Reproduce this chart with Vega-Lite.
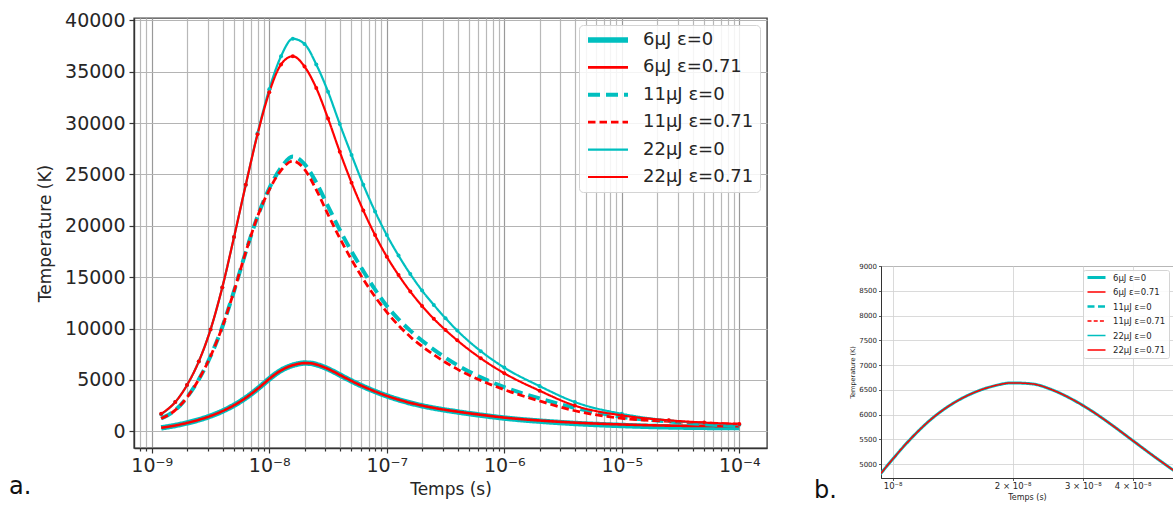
{
  "$schema": "https://vega.github.io/schema/vega-lite/v6.json",
  "autosize": {"type": "pad"},
  "padding": {"left": 8, "top": 10, "right": 0, "bottom": 0},
  "config": {
    "font": "DejaVu Sans",
    "view": {"stroke": null},
    "axis": {"labelColor": "#262626", "titleColor": "#262626", "titleFontWeight": "normal", "domainColor": "#333333", "tickColor": "#333333"},
    "title": {"font": "DejaVu Sans", "fontWeight": "normal", "color": "#111111"}
  },
  "datasets": {
    "curves": [
      {"s": "6µJ ε=0", "t": 1.202e-9, "T": 340},
      {"s": "6µJ ε=0", "t": 1.585e-9, "T": 570},
      {"s": "6µJ ε=0", "t": 1.995e-9, "T": 820},
      {"s": "6µJ ε=0", "t": 2.512e-9, "T": 1120},
      {"s": "6µJ ε=0", "t": 3.162e-9, "T": 1490},
      {"s": "6µJ ε=0", "t": 3.981e-9, "T": 1960},
      {"s": "6µJ ε=0", "t": 5.012e-9, "T": 2540},
      {"s": "6µJ ε=0", "t": 6.31e-9, "T": 3260},
      {"s": "6µJ ε=0", "t": 7.943e-9, "T": 4130},
      {"s": "6µJ ε=0", "t": 8.913e-9, "T": 4610},
      {"s": "6µJ ε=0", "t": 1e-8, "T": 5100},
      {"s": "6µJ ε=0", "t": 1.122e-8, "T": 5550},
      {"s": "6µJ ε=0", "t": 1.259e-8, "T": 5930},
      {"s": "6µJ ε=0", "t": 1.413e-8, "T": 6220},
      {"s": "6µJ ε=0", "t": 1.585e-8, "T": 6430},
      {"s": "6µJ ε=0", "t": 1.778e-8, "T": 6570},
      {"s": "6µJ ε=0", "t": 1.995e-8, "T": 6640},
      {"s": "6µJ ε=0", "t": 2.239e-8, "T": 6620},
      {"s": "6µJ ε=0", "t": 2.512e-8, "T": 6500},
      {"s": "6µJ ε=0", "t": 2.818e-8, "T": 6310},
      {"s": "6µJ ε=0", "t": 3.162e-8, "T": 6070},
      {"s": "6µJ ε=0", "t": 3.548e-8, "T": 5790},
      {"s": "6µJ ε=0", "t": 3.981e-8, "T": 5490},
      {"s": "6µJ ε=0", "t": 4.467e-8, "T": 5190},
      {"s": "6µJ ε=0", "t": 5.012e-8, "T": 4900},
      {"s": "6µJ ε=0", "t": 5.623e-8, "T": 4620},
      {"s": "6µJ ε=0", "t": 6.31e-8, "T": 4360},
      {"s": "6µJ ε=0", "t": 7.943e-8, "T": 3880},
      {"s": "6µJ ε=0", "t": 1e-7, "T": 3450},
      {"s": "6µJ ε=0", "t": 1.259e-7, "T": 3080},
      {"s": "6µJ ε=0", "t": 1.585e-7, "T": 2760},
      {"s": "6µJ ε=0", "t": 1.995e-7, "T": 2490},
      {"s": "6µJ ε=0", "t": 2.512e-7, "T": 2260},
      {"s": "6µJ ε=0", "t": 3.981e-7, "T": 1890},
      {"s": "6µJ ε=0", "t": 6.31e-7, "T": 1570},
      {"s": "6µJ ε=0", "t": 1e-6, "T": 1290},
      {"s": "6µJ ε=0", "t": 1.995e-6, "T": 990},
      {"s": "6µJ ε=0", "t": 3.981e-6, "T": 765},
      {"s": "6µJ ε=0", "t": 1e-5, "T": 565},
      {"s": "6µJ ε=0", "t": 2.512e-5, "T": 430},
      {"s": "6µJ ε=0", "t": 5.012e-5, "T": 385},
      {"s": "6µJ ε=0", "t": 1e-4, "T": 360},

      {"s": "6µJ ε=0.71", "t": 1.202e-9, "T": 340},
      {"s": "6µJ ε=0.71", "t": 1.585e-9, "T": 570},
      {"s": "6µJ ε=0.71", "t": 1.995e-9, "T": 820},
      {"s": "6µJ ε=0.71", "t": 2.512e-9, "T": 1120},
      {"s": "6µJ ε=0.71", "t": 3.162e-9, "T": 1490},
      {"s": "6µJ ε=0.71", "t": 3.981e-9, "T": 1960},
      {"s": "6µJ ε=0.71", "t": 5.012e-9, "T": 2540},
      {"s": "6µJ ε=0.71", "t": 6.31e-9, "T": 3260},
      {"s": "6µJ ε=0.71", "t": 7.943e-9, "T": 4130},
      {"s": "6µJ ε=0.71", "t": 8.913e-9, "T": 4610},
      {"s": "6µJ ε=0.71", "t": 1e-8, "T": 5100},
      {"s": "6µJ ε=0.71", "t": 1.122e-8, "T": 5550},
      {"s": "6µJ ε=0.71", "t": 1.259e-8, "T": 5930},
      {"s": "6µJ ε=0.71", "t": 1.413e-8, "T": 6220},
      {"s": "6µJ ε=0.71", "t": 1.585e-8, "T": 6430},
      {"s": "6µJ ε=0.71", "t": 1.778e-8, "T": 6570},
      {"s": "6µJ ε=0.71", "t": 1.995e-8, "T": 6640},
      {"s": "6µJ ε=0.71", "t": 2.239e-8, "T": 6620},
      {"s": "6µJ ε=0.71", "t": 2.512e-8, "T": 6500},
      {"s": "6µJ ε=0.71", "t": 2.818e-8, "T": 6310},
      {"s": "6µJ ε=0.71", "t": 3.162e-8, "T": 6070},
      {"s": "6µJ ε=0.71", "t": 3.548e-8, "T": 5790},
      {"s": "6µJ ε=0.71", "t": 3.981e-8, "T": 5490},
      {"s": "6µJ ε=0.71", "t": 4.467e-8, "T": 5190},
      {"s": "6µJ ε=0.71", "t": 5.012e-8, "T": 4900},
      {"s": "6µJ ε=0.71", "t": 5.623e-8, "T": 4620},
      {"s": "6µJ ε=0.71", "t": 6.31e-8, "T": 4360},
      {"s": "6µJ ε=0.71", "t": 7.943e-8, "T": 3880},
      {"s": "6µJ ε=0.71", "t": 1e-7, "T": 3450},
      {"s": "6µJ ε=0.71", "t": 1.259e-7, "T": 3085},
      {"s": "6µJ ε=0.71", "t": 1.585e-7, "T": 2770},
      {"s": "6µJ ε=0.71", "t": 1.995e-7, "T": 2505},
      {"s": "6µJ ε=0.71", "t": 2.512e-7, "T": 2280},
      {"s": "6µJ ε=0.71", "t": 3.981e-7, "T": 1915},
      {"s": "6µJ ε=0.71", "t": 6.31e-7, "T": 1605},
      {"s": "6µJ ε=0.71", "t": 1e-6, "T": 1335},
      {"s": "6µJ ε=0.71", "t": 1.995e-6, "T": 1050},
      {"s": "6µJ ε=0.71", "t": 3.981e-6, "T": 845},
      {"s": "6µJ ε=0.71", "t": 1e-5, "T": 665},
      {"s": "6µJ ε=0.71", "t": 2.512e-5, "T": 550},
      {"s": "6µJ ε=0.71", "t": 5.012e-5, "T": 515},
      {"s": "6µJ ε=0.71", "t": 1e-4, "T": 500},

      {"s": "11µJ ε=0", "t": 1.202e-9, "T": 1250},
      {"s": "11µJ ε=0", "t": 1.585e-9, "T": 2060},
      {"s": "11µJ ε=0", "t": 1.995e-9, "T": 3310},
      {"s": "11µJ ε=0", "t": 2.512e-9, "T": 5050},
      {"s": "11µJ ε=0", "t": 3.162e-9, "T": 7300},
      {"s": "11µJ ε=0", "t": 3.981e-9, "T": 10150},
      {"s": "11µJ ε=0", "t": 5.012e-9, "T": 13650},
      {"s": "11µJ ε=0", "t": 6.31e-9, "T": 17450},
      {"s": "11µJ ε=0", "t": 7.943e-9, "T": 20900},
      {"s": "11µJ ε=0", "t": 1e-8, "T": 23650},
      {"s": "11µJ ε=0", "t": 1.259e-8, "T": 25650},
      {"s": "11µJ ε=0", "t": 1.585e-8, "T": 26750},
      {"s": "11µJ ε=0", "t": 1.995e-8, "T": 26000},
      {"s": "11µJ ε=0", "t": 2.512e-8, "T": 24200},
      {"s": "11µJ ε=0", "t": 3.162e-8, "T": 21900},
      {"s": "11µJ ε=0", "t": 3.981e-8, "T": 19600},
      {"s": "11µJ ε=0", "t": 5.012e-8, "T": 17500},
      {"s": "11µJ ε=0", "t": 6.31e-8, "T": 15600},
      {"s": "11µJ ε=0", "t": 7.943e-8, "T": 13800},
      {"s": "11µJ ε=0", "t": 1e-7, "T": 12200},
      {"s": "11µJ ε=0", "t": 1.259e-7, "T": 10900},
      {"s": "11µJ ε=0", "t": 1.585e-7, "T": 9800},
      {"s": "11µJ ε=0", "t": 2.512e-7, "T": 7950},
      {"s": "11µJ ε=0", "t": 3.981e-7, "T": 6450},
      {"s": "11µJ ε=0", "t": 6.31e-7, "T": 5250},
      {"s": "11µJ ε=0", "t": 1e-6, "T": 4300},
      {"s": "11µJ ε=0", "t": 1.995e-6, "T": 3200},
      {"s": "11µJ ε=0", "t": 3.981e-6, "T": 2280},
      {"s": "11µJ ε=0", "t": 1e-5, "T": 1400},
      {"s": "11µJ ε=0", "t": 2.512e-5, "T": 950},
      {"s": "11µJ ε=0", "t": 5.012e-5, "T": 700},
      {"s": "11µJ ε=0", "t": 1e-4, "T": 500},

      {"s": "11µJ ε=0.71", "t": 1.202e-9, "T": 1250},
      {"s": "11µJ ε=0.71", "t": 1.585e-9, "T": 2060},
      {"s": "11µJ ε=0.71", "t": 1.995e-9, "T": 3310},
      {"s": "11µJ ε=0.71", "t": 2.512e-9, "T": 5050},
      {"s": "11µJ ε=0.71", "t": 3.162e-9, "T": 7300},
      {"s": "11µJ ε=0.71", "t": 3.981e-9, "T": 10150},
      {"s": "11µJ ε=0.71", "t": 5.012e-9, "T": 13650},
      {"s": "11µJ ε=0.71", "t": 6.31e-9, "T": 17450},
      {"s": "11µJ ε=0.71", "t": 7.943e-9, "T": 20900},
      {"s": "11µJ ε=0.71", "t": 1e-8, "T": 23500},
      {"s": "11µJ ε=0.71", "t": 1.259e-8, "T": 25400},
      {"s": "11µJ ε=0.71", "t": 1.585e-8, "T": 26300},
      {"s": "11µJ ε=0.71", "t": 1.995e-8, "T": 25500},
      {"s": "11µJ ε=0.71", "t": 2.512e-8, "T": 23500},
      {"s": "11µJ ε=0.71", "t": 3.162e-8, "T": 21100},
      {"s": "11µJ ε=0.71", "t": 3.981e-8, "T": 18800},
      {"s": "11µJ ε=0.71", "t": 5.012e-8, "T": 16700},
      {"s": "11µJ ε=0.71", "t": 6.31e-8, "T": 14800},
      {"s": "11µJ ε=0.71", "t": 7.943e-8, "T": 13100},
      {"s": "11µJ ε=0.71", "t": 1e-7, "T": 11600},
      {"s": "11µJ ε=0.71", "t": 1.259e-7, "T": 10300},
      {"s": "11µJ ε=0.71", "t": 1.585e-7, "T": 9200},
      {"s": "11µJ ε=0.71", "t": 2.512e-7, "T": 7450},
      {"s": "11µJ ε=0.71", "t": 3.981e-7, "T": 6050},
      {"s": "11µJ ε=0.71", "t": 6.31e-7, "T": 4950},
      {"s": "11µJ ε=0.71", "t": 1e-6, "T": 4050},
      {"s": "11µJ ε=0.71", "t": 1.995e-6, "T": 2950},
      {"s": "11µJ ε=0.71", "t": 3.981e-6, "T": 2000},
      {"s": "11µJ ε=0.71", "t": 1e-5, "T": 1260},
      {"s": "11µJ ε=0.71", "t": 2.512e-5, "T": 970},
      {"s": "11µJ ε=0.71", "t": 5.012e-5, "T": 810},
      {"s": "11µJ ε=0.71", "t": 1e-4, "T": 700},

      {"s": "22µJ ε=0", "t": 1.202e-9, "T": 1650},
      {"s": "22µJ ε=0", "t": 1.585e-9, "T": 2850},
      {"s": "22µJ ε=0", "t": 1.995e-9, "T": 4500},
      {"s": "22µJ ε=0", "t": 2.512e-9, "T": 6800},
      {"s": "22µJ ε=0", "t": 3.162e-9, "T": 9900},
      {"s": "22µJ ε=0", "t": 3.981e-9, "T": 14000},
      {"s": "22µJ ε=0", "t": 5.012e-9, "T": 18900},
      {"s": "22µJ ε=0", "t": 6.31e-9, "T": 24000},
      {"s": "22µJ ε=0", "t": 7.943e-9, "T": 29000},
      {"s": "22µJ ε=0", "t": 1e-8, "T": 33300},
      {"s": "22µJ ε=0", "t": 1.259e-8, "T": 36500},
      {"s": "22µJ ε=0", "t": 1.585e-8, "T": 38200},
      {"s": "22µJ ε=0", "t": 1.995e-8, "T": 37700},
      {"s": "22µJ ε=0", "t": 2.512e-8, "T": 35700},
      {"s": "22µJ ε=0", "t": 3.162e-8, "T": 33050},
      {"s": "22µJ ε=0", "t": 3.981e-8, "T": 29900},
      {"s": "22µJ ε=0", "t": 5.012e-8, "T": 26900},
      {"s": "22µJ ε=0", "t": 6.31e-8, "T": 24000},
      {"s": "22µJ ε=0", "t": 7.943e-8, "T": 21400},
      {"s": "22µJ ε=0", "t": 1e-7, "T": 19100},
      {"s": "22µJ ε=0", "t": 1.259e-7, "T": 17100},
      {"s": "22µJ ε=0", "t": 1.585e-7, "T": 15300},
      {"s": "22µJ ε=0", "t": 1.995e-7, "T": 13700},
      {"s": "22µJ ε=0", "t": 2.512e-7, "T": 12300},
      {"s": "22µJ ε=0", "t": 3.162e-7, "T": 11000},
      {"s": "22µJ ε=0", "t": 3.981e-7, "T": 9800},
      {"s": "22µJ ε=0", "t": 6.31e-7, "T": 7800},
      {"s": "22µJ ε=0", "t": 1e-6, "T": 6200},
      {"s": "22µJ ε=0", "t": 1.995e-6, "T": 4400},
      {"s": "22µJ ε=0", "t": 3.981e-6, "T": 2850},
      {"s": "22µJ ε=0", "t": 1e-5, "T": 1700},
      {"s": "22µJ ε=0", "t": 2.512e-5, "T": 1050},
      {"s": "22µJ ε=0", "t": 5.012e-5, "T": 790},
      {"s": "22µJ ε=0", "t": 1e-4, "T": 645},

      {"s": "22µJ ε=0.71", "t": 1.202e-9, "T": 1700},
      {"s": "22µJ ε=0.71", "t": 1.585e-9, "T": 2850},
      {"s": "22µJ ε=0.71", "t": 1.995e-9, "T": 4500},
      {"s": "22µJ ε=0.71", "t": 2.512e-9, "T": 6800},
      {"s": "22µJ ε=0.71", "t": 3.162e-9, "T": 9900},
      {"s": "22µJ ε=0.71", "t": 3.981e-9, "T": 14000},
      {"s": "22µJ ε=0.71", "t": 5.012e-9, "T": 18900},
      {"s": "22µJ ε=0.71", "t": 6.31e-9, "T": 24000},
      {"s": "22µJ ε=0.71", "t": 7.943e-9, "T": 28900},
      {"s": "22µJ ε=0.71", "t": 1e-8, "T": 33000},
      {"s": "22µJ ε=0.71", "t": 1.259e-8, "T": 35700},
      {"s": "22µJ ε=0.71", "t": 1.585e-8, "T": 36500},
      {"s": "22µJ ε=0.71", "t": 1.995e-8, "T": 35500},
      {"s": "22µJ ε=0.71", "t": 2.512e-8, "T": 33400},
      {"s": "22µJ ε=0.71", "t": 3.162e-8, "T": 30450},
      {"s": "22µJ ε=0.71", "t": 3.981e-8, "T": 27200},
      {"s": "22µJ ε=0.71", "t": 5.012e-8, "T": 24200},
      {"s": "22µJ ε=0.71", "t": 6.31e-8, "T": 21500},
      {"s": "22µJ ε=0.71", "t": 7.943e-8, "T": 19100},
      {"s": "22µJ ε=0.71", "t": 1e-7, "T": 17000},
      {"s": "22µJ ε=0.71", "t": 1.259e-7, "T": 15200},
      {"s": "22µJ ε=0.71", "t": 1.585e-7, "T": 13600},
      {"s": "22µJ ε=0.71", "t": 1.995e-7, "T": 12200},
      {"s": "22µJ ε=0.71", "t": 2.512e-7, "T": 10950},
      {"s": "22µJ ε=0.71", "t": 3.162e-7, "T": 9850},
      {"s": "22µJ ε=0.71", "t": 3.981e-7, "T": 8850},
      {"s": "22µJ ε=0.71", "t": 6.31e-7, "T": 7100},
      {"s": "22µJ ε=0.71", "t": 1e-6, "T": 5650},
      {"s": "22µJ ε=0.71", "t": 1.995e-6, "T": 3950},
      {"s": "22µJ ε=0.71", "t": 3.981e-6, "T": 2500},
      {"s": "22µJ ε=0.71", "t": 1e-5, "T": 1550},
      {"s": "22µJ ε=0.71", "t": 2.512e-5, "T": 1070},
      {"s": "22µJ ε=0.71", "t": 5.012e-5, "T": 850},
      {"s": "22µJ ε=0.71", "t": 1e-4, "T": 710}
    ]
  },
  "bounds": "flush",
  "spacing": 114,
  "resolve": {
    "scale": {"x": "independent", "y": "independent", "color": "independent", "strokeDash": "independent", "strokeWidth": "independent"},
    "legend": {"color": "independent", "strokeDash": "independent", "strokeWidth": "independent"}
  },
  "hconcat": [
    {
      "width": 633,
      "height": 430,
      "view": {"stroke": "#444444", "strokeWidth": 1.4},
      "title": {"text": "a.", "orient": "bottom", "anchor": "start", "frame": "group", "dx": -125, "dy": -22, "offset": 0, "fontSize": 24},
      "data": {"name": "curves"},
      "layer": [
        {
          "mark": {"type": "line", "interpolate": "monotone", "clip": true},
          "encoding": {
            "x": {
              "field": "t", "type": "quantitative",
              "scale": {"type": "log", "domain": [7.06e-10, 1.72e-4], "nice": false},
              "axis": {
                "title": "Temps (s)", "titleFontSize": 17, "titlePadding": 6,
                "values": [8e-10, 9e-10, 1e-9, 2e-9, 3e-9, 4e-9, 5e-9, 6e-9, 7e-9, 8e-9, 9e-9, 1e-8, 2e-8, 3e-8, 4e-8, 5e-8, 6e-8, 7e-8, 8e-8, 9e-8, 1e-7, 2e-7, 3e-7, 4e-7, 5e-7, 6e-7, 7e-7, 8e-7, 9e-7, 1e-6, 2e-6, 3e-6, 4e-6, 5e-6, 6e-6, 7e-6, 8e-6, 9e-6, 1e-5, 2e-5, 3e-5, 4e-5, 5e-5, 6e-5, 7e-5, 8e-5, 9e-5, 1e-4],
                "labelExpr": "abs(log(datum.value)/LN10 - round(log(datum.value)/LN10)) < 0.01 ? '10⁻' + ['⁰','¹','²','³','⁴','⁵','⁶','⁷','⁸','⁹'][-round(log(datum.value)/LN10)] : ''",
                "labelFontSize": 19, "labelOverlap": false, "labelFlush": false, "labelBound": false, "labelPadding": 3,
                "grid": true,
                "gridColor": {"condition": {"test": "abs(log(datum.value)/LN10 - round(log(datum.value)/LN10)) < 0.01", "value": "#999999"}, "value": "#b8b8b8"},
                "gridWidth": 1.2,
                "tickSize": {"condition": {"test": "abs(log(datum.value)/LN10 - round(log(datum.value)/LN10)) < 0.01", "value": 5}, "value": 3},
                "tickWidth": 1.2,
                "domainWidth": 1.4
              }
            },
            "y": {
              "field": "T", "type": "quantitative",
              "scale": {"domain": [-1625, 40224], "nice": false, "zero": false},
              "axis": {
                "title": "Temperature (K)", "titleFontSize": 17, "titlePadding": 10,
                "values": [0, 5000, 10000, 15000, 20000, 25000, 30000, 35000, 40000],
                "format": "d", "labelFontSize": 19, "labelPadding": 4,
                "grid": true, "gridColor": "#b4b4b4", "gridWidth": 1.2,
                "tickSize": 5, "tickWidth": 1.2, "domainWidth": 1.4
              }
            },
            "color": {
              "field": "s", "type": "nominal",
              "scale": {"domain": ["6µJ ε=0", "6µJ ε=0.71", "11µJ ε=0", "11µJ ε=0.71", "22µJ ε=0", "22µJ ε=0.71"], "range": ["#00bfbf", "#ff0000", "#00bfbf", "#ff0000", "#00bfbf", "#ff0000"]},
              "legend": {"title": null, "orient": "top-right", "offset": 7, "padding": 6, "labelFontSize": 18, "labelColor": "#262626", "symbolType": "stroke", "symbolSize": 1600, "clipHeight": 18, "rowPadding": 9.4, "labelOffset": 12, "fillColor": "rgba(255,255,255,0.85)", "strokeColor": "#d4d4d4", "cornerRadius": 4, "labelLimit": 300}
            },
            "strokeDash": {
              "field": "s", "type": "nominal",
              "scale": {"domain": ["6µJ ε=0", "6µJ ε=0.71", "11µJ ε=0", "11µJ ε=0.71", "22µJ ε=0", "22µJ ε=0.71"], "range": [[1, 0], [1, 0], [12, 6], [7.5, 4], [1, 0], [1, 0]]},
              "legend": {"title": null, "orient": "top-right", "offset": 7, "padding": 6, "labelFontSize": 18, "labelColor": "#262626", "symbolType": "stroke", "symbolSize": 1600, "clipHeight": 18, "rowPadding": 9.4, "labelOffset": 12, "fillColor": "rgba(255,255,255,0.85)", "strokeColor": "#d4d4d4", "cornerRadius": 4, "labelLimit": 300}
            },
            "strokeWidth": {
              "field": "s", "type": "nominal",
              "scale": {"type": "ordinal", "domain": ["6µJ ε=0", "6µJ ε=0.71", "11µJ ε=0", "11µJ ε=0.71", "22µJ ε=0", "22µJ ε=0.71"], "range": [5.5, 2.6, 4, 2.8, 2.2, 2.2]},
              "legend": {"title": null, "orient": "top-right", "offset": 7, "padding": 6, "labelFontSize": 18, "labelColor": "#262626", "symbolType": "stroke", "symbolSize": 1600, "clipHeight": 18, "rowPadding": 9.4, "labelOffset": 12, "fillColor": "rgba(255,255,255,0.85)", "strokeColor": "#d4d4d4", "cornerRadius": 4, "labelLimit": 300}
            }
          }
        },
        {
          "transform": [{"filter": "indexof(datum.s, '22') === 0"}],
          "mark": {"type": "circle", "size": 16, "opacity": 1, "clip": true},
          "encoding": {
            "x": {"field": "t", "type": "quantitative"},
            "y": {"field": "T", "type": "quantitative"},
            "color": {"field": "s", "type": "nominal", "legend": null}
          }
        }
      ]
    },
    {
      "bounds": "flush",
      "spacing": 0,
      "resolve": {
        "scale": {"x": "independent", "y": "independent", "color": "independent", "strokeDash": "independent", "strokeWidth": "independent"},
        "legend": {"color": "independent", "strokeDash": "independent", "strokeWidth": "independent"}
      },
      "vconcat": [
        {
          "width": 292,
          "height": 248,
          "data": {"values": [{"a": 1}]},
          "mark": {"type": "text", "text": ""}
        },
        {
          "width": 292,
          "height": 212,
          "view": {"stroke": "#555555", "strokeWidth": 1},
          "title": {"text": "b.", "orient": "bottom", "anchor": "start", "frame": "group", "dx": -67, "dy": -22, "offset": 0, "fontSize": 24},
          "data": {"name": "curves"},
          "layer": [
            {
              "mark": {"type": "line", "interpolate": "monotone", "clip": true},
              "encoding": {
                "x": {
                  "field": "t", "type": "quantitative",
                  "scale": {"type": "log", "domain": [9.35e-9, 5.05e-8], "nice": false},
                  "axis": {
                    "title": "Temps (s)", "titleFontSize": 8, "titlePadding": 3,
                    "values": [1e-8, 2e-8, 3e-8, 4e-8],
                    "labelExpr": "datum.value < 1.5e-8 ? '10⁻⁸' : round(datum.value * 1e8) + ' × 10⁻⁸'",
                    "labelFontSize": 8.5, "labelOverlap": false, "labelFlush": false, "labelPadding": 1,
                    "grid": true, "gridColor": "#d0d0d0", "gridWidth": 0.8,
                    "tickSize": 2.5, "tickWidth": 0.8, "domainWidth": 1
                  }
                },
                "y": {
                  "field": "T", "type": "quantitative",
                  "scale": {"domain": [4720, 9000], "nice": false, "zero": false},
                  "axis": {
                    "title": "Temperature (K)", "titleFontSize": 6.5, "titlePadding": 3,
                    "values": [5000, 5500, 6000, 6500, 7000, 7500, 8000, 8500, 9000],
                    "format": "d", "labelFontSize": 7, "labelPadding": 2,
                    "grid": true, "gridColor": "#d0d0d0", "gridWidth": 0.8,
                    "tickSize": 2.5, "tickWidth": 0.8, "domainWidth": 1
                  }
                },
                "color": {
                  "field": "s", "type": "nominal",
                  "scale": {"domain": ["6µJ ε=0", "6µJ ε=0.71", "11µJ ε=0", "11µJ ε=0.71", "22µJ ε=0", "22µJ ε=0.71"], "range": ["#00bfbf", "#ff0000", "#00bfbf", "#ff0000", "#00bfbf", "#ff0000"]},
                  "legend": {"title": null, "orient": "top-right", "offset": 4, "padding": 3, "labelFontSize": 8.5, "labelColor": "#262626", "symbolType": "stroke", "symbolSize": 324, "clipHeight": 9, "rowPadding": 5.5, "labelOffset": 6, "fillColor": "rgba(255,255,255,0.85)", "strokeColor": "#d4d4d4", "cornerRadius": 2, "labelLimit": 200}
                },
                "strokeDash": {
                  "field": "s", "type": "nominal",
                  "scale": {"domain": ["6µJ ε=0", "6µJ ε=0.71", "11µJ ε=0", "11µJ ε=0.71", "22µJ ε=0", "22µJ ε=0.71"], "range": [[1, 0], [1, 0], [7, 3.5], [4, 2.2], [1, 0], [1, 0]]},
                  "legend": {"title": null, "orient": "top-right", "offset": 4, "padding": 3, "labelFontSize": 8.5, "labelColor": "#262626", "symbolType": "stroke", "symbolSize": 324, "clipHeight": 9, "rowPadding": 5.5, "labelOffset": 6, "fillColor": "rgba(255,255,255,0.85)", "strokeColor": "#d4d4d4", "cornerRadius": 2, "labelLimit": 200}
                },
                "strokeWidth": {
                  "field": "s", "type": "nominal",
                  "scale": {"type": "ordinal", "domain": ["6µJ ε=0", "6µJ ε=0.71", "11µJ ε=0", "11µJ ε=0.71", "22µJ ε=0", "22µJ ε=0.71"], "range": [3, 1.5, 2.5, 1.6, 1.5, 1.5]},
                  "legend": {"title": null, "orient": "top-right", "offset": 4, "padding": 3, "labelFontSize": 8.5, "labelColor": "#262626", "symbolType": "stroke", "symbolSize": 324, "clipHeight": 9, "rowPadding": 5.5, "labelOffset": 6, "fillColor": "rgba(255,255,255,0.85)", "strokeColor": "#d4d4d4", "cornerRadius": 2, "labelLimit": 200}
                }
              }
            }
          ]
        }
      ]
    }
  ]
}
